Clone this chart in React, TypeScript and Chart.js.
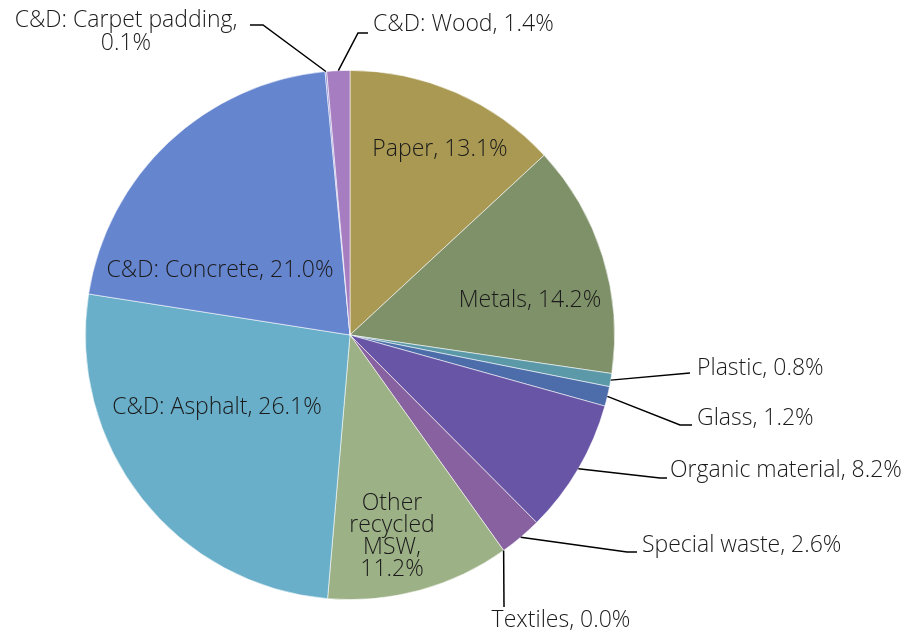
import React, { useEffect, useRef } from "react";
import { Chart, registerables } from "chart.js";

Chart.register(...registerables);

const categories = [
  "Paper",
  "Metals",
  "Plastic",
  "Glass",
  "Organic material",
  "Special waste",
  "Textiles",
  "Other recycled MSW",
  "C&D: Asphalt",
  "C&D: Concrete",
  "C&D: Carpet padding",
  "C&D: Wood",
];

const shares = [13.1, 14.2, 0.8, 1.2, 8.2, 2.6, 0.0, 11.2, 26.1, 21.0, 0.1, 1.4];

const sliceColors = [
  "#AA9953",
  "#7F9169",
  "#5B99A9",
  "#4C6DAA",
  "#6955A5",
  "#8862A0",
  "#9A9A9A",
  "#9DB186",
  "#69AFC9",
  "#6585CF",
  "#8C86CF",
  "#A67DC0",
];

// Label layout relative to pie center (px).
type LabelLayout = {
  text: [number, number];
  align: CanvasTextAlign;
  leader?: [number, number][];
  wrap?: "words" | "comma";
  lineGap?: number;
};

const labelLayout: LabelLayout[] = [
  { text: [90, -186], align: "center" },
  { text: [180, -35], align: "center" },
  { text: [347, 33], align: "left", leader: [[340, 38]] },
  { text: [347, 83], align: "left", leader: [[330, 90], [342, 90]] },
  { text: [320, 135], align: "left", leader: [[310, 143], [317, 143]] },
  { text: [292, 210], align: "left", leader: [[277, 217], [287, 217]] },
  { text: [211, 285], align: "center", leader: [[154, 272]] },
  { text: [42, 168], align: "center", wrap: "words", lineGap: 22.3 },
  { text: [-133, 72], align: "center" },
  { text: [-130, -65], align: "center" },
  { text: [-224, -315], align: "center", leader: [[-87, -310], [-100, -310]], wrap: "comma", lineGap: 23 },
  { text: [23, -311], align: "left", leader: [[8, -302], [18, -302]] },
];

const FONT = '300 23px "Open Sans"';

const labelPlugin = {
  id: "pieLabels",
  afterDatasetsDraw(chart: any) {
    const ctx: CanvasRenderingContext2D = chart.ctx;
    const meta = chart.getDatasetMeta(0);
    ctx.save();
    meta.data.forEach((arc: any, i: number) => {
      const lay = labelLayout[i];
      if (!lay) return;
      const p = arc.getProps(["x", "y", "startAngle", "endAngle", "outerRadius"], true);
      const cx = p.x;
      const cy = p.y;
      const mid = (p.startAngle + p.endAngle) / 2;
      if (lay.leader) {
        ctx.beginPath();
        ctx.strokeStyle = "#000";
        ctx.lineWidth = 1.5;
        ctx.moveTo(cx + Math.cos(mid) * p.outerRadius, cy + Math.sin(mid) * p.outerRadius);
        lay.leader.forEach(([dx, dy]) => ctx.lineTo(cx + dx, cy + dy));
        ctx.stroke();
      }
      const full = `${categories[i]}, ${shares[i].toFixed(1)}%`;
      let lines: string[] = [full];
      if (lay.wrap === "words") {
        lines = full.split(" ");
      } else if (lay.wrap === "comma") {
        lines = [`${categories[i]},`, `${shares[i].toFixed(1)}%`];
      }
      ctx.font = FONT;
      ctx.fillStyle = "#1a1a1a";
      ctx.textAlign = lay.align;
      ctx.textBaseline = "middle";
      lines.forEach((ln, k) => {
        ctx.fillText(ln, cx + lay.text[0], cy + lay.text[1] + k * (lay.lineGap || 0));
      });
    });
    ctx.restore();
  },
};

export default function App() {
  const ref = useRef<HTMLCanvasElement | null>(null);
  useEffect(() => {
    if (!ref.current) return;
    const chart = new Chart(ref.current, {
      type: "pie",
      data: {
        labels: categories,
        datasets: [
          {
            data: shares,
            backgroundColor: sliceColors,
            borderColor: "rgba(255,255,255,0.7)",
            borderWidth: 0.8,
          },
        ],
      },
      options: {
        responsive: false,
        animation: false,
        layout: { padding: { left: 85, right: 301, top: 70, bottom: 33 } },
        plugins: {
          legend: { display: false },
          tooltip: { enabled: false },
          title: { display: false },
        },
      },
      plugins: [labelPlugin],
    });
    return () => chart.destroy();
  }, []);
  return (
    <div style={{ position: "absolute", left: 0, top: 0, width: 916, height: 633, background: "#fff" }}>
      <canvas ref={ref} width={916} height={633} style={{ display: "block" }} />
    </div>
  );
}
